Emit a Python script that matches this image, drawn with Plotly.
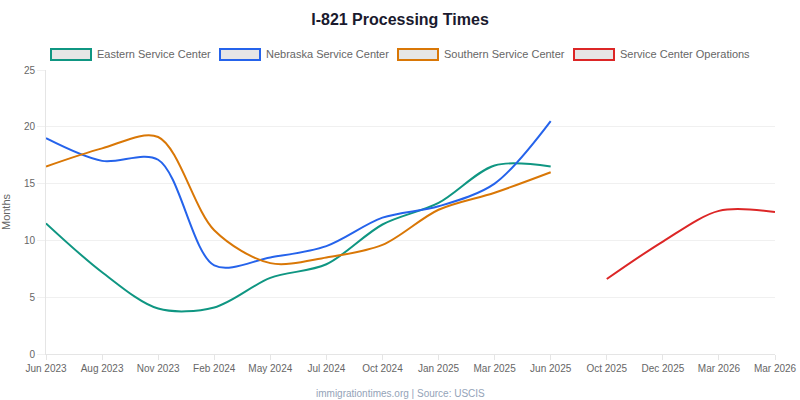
import plotly.graph_objects as go

categories = ["Jun 2023", "Aug 2023", "Nov 2023", "Feb 2024", "May 2024", "Jul 2024",
              "Oct 2024", "Jan 2025", "Mar 2025", "Jun 2025", "Oct 2025", "Dec 2025",
              "Mar 2026", "Mar 2026"]

eastern = [11.5, 7.2, 4.0, 4.1, 6.7, 7.9, 11.4, 13.3, 16.6, 16.5, None, None, None, None]
nebraska = [19.0, 17.0, 17.1, 7.8, 8.5, 9.5, 12.0, 13.0, 15.0, 20.5, None, None, None, None]
southern = [16.5, 18.1, 19.1, 10.9, 8.0, 8.5, 9.6, 12.7, 14.2, 16.0, None, None, None, None]
operations = [None, None, None, None, None, None, None, None, None, None, 6.6, 9.9, 12.6, 12.5]

series_names = ["Eastern Service Center", "Nebraska Service Center",
                "Southern Service Center", "Service Center Operations"]
series_values = [eastern, nebraska, southern, operations]
colors = ["#0f9682", "#2563eb", "#d97706", "#dc2626"]

xs = list(range(len(categories)))

fig = go.Figure()
for name, vals, col in zip(series_names, series_values, colors):
    px = [x for x, v in zip(xs, vals) if v is not None]
    py = [v for v in vals if v is not None]
    fig.add_trace(go.Scatter(x=px, y=py, mode="lines", name=name,
                             line=dict(color=col, width=2, shape="spline", smoothing=0.9),
                             showlegend=False, hoverinfo="x+y"))

# manual legend (boxes with coloured border, light fill)
legend_x0 = [51, 220, 398, 574]
W, H = 800, 400
ml, mr, mt, mb = 46, 25, 70, 46
pw, ph = W - ml - mr, H - mt - mb
def px2x(p):
    return (p - ml) / pw
def px2y(p):
    return (H - mb - p) / ph

for x0, name, col in zip(legend_x0, series_names, colors):
    fig.add_shape(type="rect", xref="paper", yref="paper",
                  x0=px2x(x0), x1=px2x(x0 + 40), y0=px2y(60), y1=px2y(49),
                  line=dict(color=col, width=2), fillcolor="#e6e6e6")
    fig.add_annotation(xref="paper", yref="paper", x=px2x(x0 + 44), y=px2y(54.5),
                       text=name, showarrow=False, xanchor="left", yanchor="middle",
                       font=dict(size=11, color="#666666"))

fig.add_annotation(xref="paper", yref="paper", x=px2x(400), y=px2y(393),
                   text="immigrationtimes.org | Source: USCIS", showarrow=False,
                   xanchor="center", yanchor="middle",
                   font=dict(size=10, color="#94a3b8"))

fig.update_layout(
    width=W, height=H,
    margin=dict(l=ml, r=mr, t=mt, b=mb),
    paper_bgcolor="white", plot_bgcolor="white",
    font=dict(family="Liberation Sans, Arial, sans-serif", color="#666666"),
    title=dict(text="<b>I-821 Processing Times</b>", x=0.5, xanchor="center",
               y=1 - 19 / H, yanchor="middle",
               font=dict(size=16, color="#1a1a2e")),
    xaxis=dict(range=[0, 13], tickmode="array", tickvals=xs, ticktext=categories,
               showgrid=False, showline=True, linecolor="#e5e5e5", linewidth=1,
               ticks="outside", ticklen=5, tickcolor="#e5e5e5",
               tickfont=dict(size=10, color="#666666"), zeroline=False,
               tickangle=0, automargin=False),
    yaxis=dict(range=[0, 25], dtick=5, showgrid=True, gridcolor="#f0f0f0",
               showline=True, linecolor="#e5e5e5", linewidth=1,
               ticks="outside", ticklen=8, tickcolor="#f0f0f0",
               tickfont=dict(size=10, color="#666666"), zeroline=False,
               title=dict(text="Months", font=dict(size=11, color="#666666"), standoff=12),
               automargin=False),
    showlegend=False,
)

fig.write_html("out.html", config={"displayModeBar": False},
               post_script="document.body.style.margin='0';document.body.style.overflow='hidden';")
